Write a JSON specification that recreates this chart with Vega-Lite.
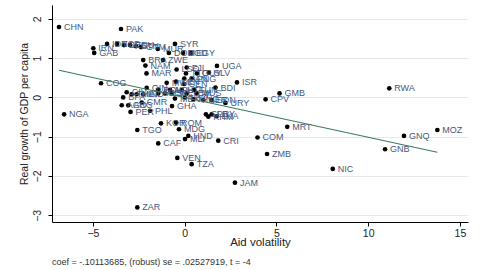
{
  "$schema": "https://vega.github.io/schema/vega-lite/v6.json",
  "autosize": {"type": "none"},
  "padding": {"left": 52, "top": 5, "right": 18, "bottom": 48},
  "width": 416,
  "height": 217,
  "background": "white",
  "config": {
    "font": "Liberation Sans",
    "view": {"stroke": null},
    "axis": {"labelFont": "Liberation Sans", "titleFont": "Liberation Sans", "titleFontWeight": "normal"}
  },
  "title": {
    "text": "coef = -.10113685, (robust) se = .02527919, t = -4",
    "orient": "bottom",
    "anchor": "start",
    "frame": "group",
    "fontSize": 9,
    "fontWeight": "normal",
    "font": "Liberation Sans",
    "color": "#333333",
    "offset": 10
  },
  "datasets": {
    "countries": [
      {"iso": "CHN", "vol": -6.85, "growth": 1.79},
      {"iso": "PAK", "vol": -3.47, "growth": 1.74},
      {"iso": "IRN", "vol": -4.98, "growth": 1.25},
      {"iso": "GAB", "vol": -4.93, "growth": 1.13},
      {"iso": "IDN", "vol": -4.23, "growth": 1.36},
      {"iso": "TCD", "vol": -3.69, "growth": 1.36},
      {"iso": "BEN", "vol": -3.31, "growth": 1.33},
      {"iso": "ECU", "vol": -2.98, "growth": 1.33},
      {"iso": "ETH", "vol": -2.65, "growth": 1.3},
      {"iso": "GTM", "vol": -2.38, "growth": 1.28},
      {"iso": "MUR", "vol": -1.46, "growth": 1.23},
      {"iso": "SYR", "vol": -0.53, "growth": 1.36},
      {"iso": "DOM", "vol": -0.86, "growth": 1.13},
      {"iso": "BGD", "vol": -0.09, "growth": 1.13},
      {"iso": "EGY", "vol": 0.34, "growth": 1.13},
      {"iso": "BRA", "vol": -2.26, "growth": 0.95},
      {"iso": "ZWE", "vol": -1.18, "growth": 0.95},
      {"iso": "NAM", "vol": -2.14, "growth": 0.81},
      {"iso": "MAR", "vol": -2.08, "growth": 0.61},
      {"iso": "LSO", "vol": -0.44, "growth": 0.71},
      {"iso": "FJI", "vol": 0.11, "growth": 0.76},
      {"iso": "UGA", "vol": 1.76, "growth": 0.8},
      {"iso": "TTO", "vol": 0.07, "growth": 0.61},
      {"iso": "GUY", "vol": 0.67, "growth": 0.61},
      {"iso": "SLV", "vol": 1.32, "growth": 0.63},
      {"iso": "PAN", "vol": -0.02, "growth": 0.48},
      {"iso": "PNG", "vol": 0.38, "growth": 0.48},
      {"iso": "MWI", "vol": -0.98, "growth": 0.37},
      {"iso": "KEN", "vol": -0.47, "growth": 0.4},
      {"iso": "SEN", "vol": -0.04, "growth": 0.34},
      {"iso": "COG", "vol": -4.56, "growth": 0.36},
      {"iso": "ISR", "vol": 2.85, "growth": 0.38},
      {"iso": "BDI", "vol": 1.68, "growth": 0.25},
      {"iso": "GIN", "vol": -2.07, "growth": 0.24},
      {"iso": "BOL", "vol": -1.44, "growth": 0.2},
      {"iso": "NPL", "vol": -0.8, "growth": 0.19},
      {"iso": "HTI", "vol": -0.16, "growth": 0.19},
      {"iso": "TUN", "vol": 0.51, "growth": 0.19},
      {"iso": "CIV", "vol": -3.16, "growth": 0.13},
      {"iso": "THA", "vol": -2.89, "growth": 0.08},
      {"iso": "MLT", "vol": -2.62, "growth": 0.08},
      {"iso": "IND", "vol": -2.26, "growth": 0.08},
      {"iso": "MYS", "vol": -1.44, "growth": 0.1},
      {"iso": "JOR", "vol": -1.07, "growth": 0.1},
      {"iso": "SLE", "vol": -0.71, "growth": 0.1},
      {"iso": "YEM", "vol": 0.11, "growth": 0.1},
      {"iso": "MUS", "vol": 0.65, "growth": 0.1},
      {"iso": "BFA", "vol": -3.35, "growth": 0.0},
      {"iso": "MEX", "vol": -0.53, "growth": -0.03},
      {"iso": "LAO", "vol": 0.02, "growth": 0.0},
      {"iso": "MNG", "vol": 0.47, "growth": -0.05},
      {"iso": "NER", "vol": 1.01, "growth": -0.07},
      {"iso": "SDN", "vol": 1.47, "growth": -0.07},
      {"iso": "URY", "vol": 2.22, "growth": -0.14},
      {"iso": "CMR", "vol": -2.34, "growth": -0.13},
      {"iso": "ARG", "vol": -3.07, "growth": -0.2},
      {"iso": "AGO", "vol": -3.43, "growth": -0.2},
      {"iso": "PER", "vol": -2.95, "growth": -0.37},
      {"iso": "PHL", "vol": -1.89, "growth": -0.34},
      {"iso": "GHA", "vol": -0.69, "growth": -0.22},
      {"iso": "GMB", "vol": 5.17, "growth": 0.1},
      {"iso": "CPV", "vol": 4.41, "growth": -0.05},
      {"iso": "RWA", "vol": 11.15, "growth": 0.23},
      {"iso": "SLB", "vol": 1.16, "growth": -0.43},
      {"iso": "PRY", "vol": 1.47, "growth": -0.43},
      {"iso": "KHM", "vol": 1.29, "growth": -0.49},
      {"iso": "LKA", "vol": 1.74, "growth": -0.48},
      {"iso": "KOR", "vol": -1.29, "growth": -0.66},
      {"iso": "ROM", "vol": -0.47, "growth": -0.64},
      {"iso": "MDG", "vol": -0.31, "growth": -0.81},
      {"iso": "TGO", "vol": -2.58, "growth": -0.83},
      {"iso": "HND", "vol": 0.2, "growth": -0.98},
      {"iso": "MLI", "vol": 0.02, "growth": -1.06},
      {"iso": "CAF", "vol": -1.44, "growth": -1.17},
      {"iso": "CRI", "vol": 1.83, "growth": -1.1},
      {"iso": "COM", "vol": 3.97, "growth": -1.02},
      {"iso": "MRT", "vol": 5.59, "growth": -0.75},
      {"iso": "VEN", "vol": -0.4, "growth": -1.54},
      {"iso": "TZA", "vol": 0.38, "growth": -1.7},
      {"iso": "ZMB", "vol": 4.49, "growth": -1.44},
      {"iso": "JAM", "vol": 2.74, "growth": -2.17},
      {"iso": "ZAR", "vol": -2.58, "growth": -2.8},
      {"iso": "NIC", "vol": 8.07, "growth": -1.82},
      {"iso": "GNB", "vol": 10.92, "growth": -1.32},
      {"iso": "GNQ", "vol": 11.95, "growth": -0.98},
      {"iso": "MOZ", "vol": 13.77, "growth": -0.83},
      {"iso": "NGA", "vol": -6.57, "growth": -0.43}
    ],
    "fit": [
      {"vol": -6.85, "growth": 0.69},
      {"vol": 13.77, "growth": -1.395}
    ]
  },
  "encoding": {
    "x": {
      "field": "vol",
      "type": "quantitative",
      "scale": {"domain": [-7.23, 15.44], "nice": false, "zero": false},
      "axis": {
        "title": "Aid volatility",
        "titleFontSize": 11.5,
        "titleColor": "#222222",
        "titlePadding": -2,
        "values": [-5, 0, 5, 10, 15],
        "labelFontSize": 10.5,
        "labelColor": "#222222",
        "labelPadding": 2,
        "tickSize": 4,
        "tickColor": "#000000",
        "domainColor": "#000000",
        "grid": false,
        "labelFlush": false
      }
    },
    "y": {
      "field": "growth",
      "type": "quantitative",
      "scale": {"domain": [-3.17, 2.35], "nice": false, "zero": false},
      "axis": {
        "title": "Real growth of GDP per capita",
        "titleFontSize": 10.5,
        "titleColor": "#222222",
        "titlePadding": 3,
        "values": [-3, -2, -1, 0, 1, 2],
        "labelAngle": 270,
        "labelAlign": "center",
        "labelBaseline": "bottom",
        "labelFontSize": 10.5,
        "labelColor": "#222222",
        "labelPadding": 6,
        "tickSize": 4,
        "tickColor": "#000000",
        "domainColor": "#000000",
        "grid": true,
        "gridColor": "#e6e9ea",
        "gridWidth": 1,
        "labelFlush": false
      }
    }
  },
  "layer": [
    {
      "data": {"name": "countries"},
      "mark": {"type": "point", "filled": true, "color": "#000000", "size": 22, "opacity": 1}
    },
    {
      "data": {"name": "countries"},
      "mark": {"type": "text", "align": "left", "baseline": "middle", "dx": 5, "fontSize": 9, "color": "#46577b", "font": "Liberation Sans"},
      "encoding": {"text": {"field": "iso"}}
    },
    {
      "data": {"name": "fit"},
      "mark": {"type": "line", "color": "#3b7b5b", "strokeWidth": 1.1}
    }
  ]
}
